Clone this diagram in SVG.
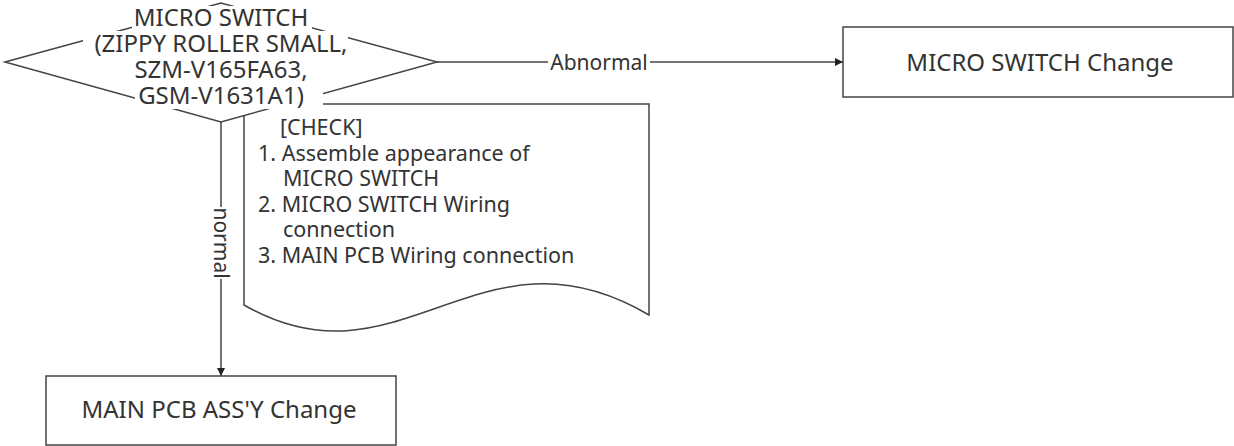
<svg xmlns="http://www.w3.org/2000/svg" width="1234" height="446" viewBox="0 0 1234 446">
<style>
.shape{fill:#fff;stroke:#444;stroke-width:1.5}
.line{fill:none;stroke:#444;stroke-width:1.5}
.t{font-family:"Noto Sans","Open Sans","Liberation Sans",sans-serif;fill:#333}
.big{font-size:24px}
.mid{font-size:21.5px}
.lbl{font-size:21px}
.bg{fill:#fff;stroke:none}
</style>
<defs>
<marker id="arr" viewBox="0 0 10 10" refX="10" refY="5" markerWidth="8" markerHeight="8" markerUnits="userSpaceOnUse" orient="auto">
<path d="M0,0 L10,5 L0,10 Z" fill="#222"/>
</marker>
</defs>
<g id="connectors">
<line class="line" x1="437" y1="62" x2="843" y2="62" marker-end="url(#arr)"/>
<rect class="bg" x="548" y="50" width="102" height="26"/>
<text class="t lbl" x="599" y="70" text-anchor="middle">Abnormal</text>
<line class="line" x1="221" y1="122" x2="221" y2="376" marker-end="url(#arr)"/>
<rect class="bg" x="210" y="207" width="22" height="72"/>
<text class="t lbl" transform="translate(221,243) rotate(90)" x="0" y="7" text-anchor="middle">normal</text>
</g>
<g id="check-note">
<path class="shape" d="M244,104 H649 V315 C480,215 400,395 244,305 Z"/>
<text class="t mid" x="280" y="135">[CHECK]</text>
<text class="t mid" x="258" y="160.5">1. Assemble appearance of</text>
<text class="t mid" x="283" y="186">MICRO SWITCH</text>
<text class="t mid" x="258" y="211.5">2. MICRO SWITCH Wiring</text>
<text class="t mid" x="283" y="237">connection</text>
<text class="t mid" x="258" y="262.5">3. MAIN PCB Wiring connection</text>
</g>
<g id="decision">
<path class="shape" d="M5,62 L221,3 L437,62 L221,122 Z"/>
<rect class="bg" x="132" y="6" width="180" height="24"/>
<rect class="bg" x="83" y="31" width="265" height="25"/>
<rect class="bg" x="124" y="57" width="172" height="25"/>
<rect class="bg" x="135" y="83" width="188" height="26"/>
<text class="t big" x="221" y="26" text-anchor="middle">MICRO SWITCH</text>
<text class="t big" x="221" y="52" text-anchor="middle">(ZIPPY ROLLER SMALL,</text>
<text class="t big" x="221" y="78" text-anchor="middle">SZM-V165FA63,</text>
<text class="t big" x="221" y="104" text-anchor="middle">GSM-V1631A1)</text>
</g>
<g id="micro-switch-change">
<rect class="shape" x="843" y="27" width="390" height="70"/>
<text class="t big" x="1040" y="71" text-anchor="middle">MICRO SWITCH Change</text>
</g>
<g id="main-pcb-change">
<rect class="shape" x="46" y="376" width="350" height="69"/>
<text class="t big" x="219" y="418" text-anchor="middle">MAIN PCB ASS'Y Change</text>
</g>
</svg>
